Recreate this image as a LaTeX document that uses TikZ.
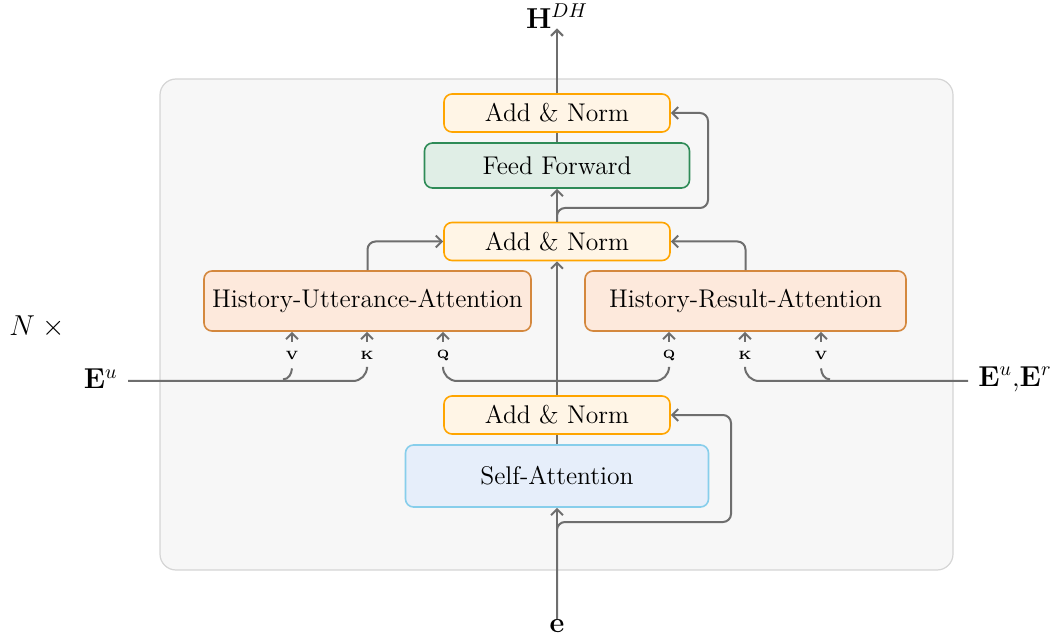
\documentclass[tikz,border=0pt]{standalone}
\usetikzlibrary{arrows.meta,calc}
\definecolor{lineg}{HTML}{6E6E6E}
\definecolor{bgfill}{HTML}{F7F7F7}
\definecolor{bgline}{HTML}{D5D5D5}
\definecolor{anfill}{HTML}{FFF5E6}
\definecolor{anline}{HTML}{FFA500}
\definecolor{fffill}{HTML}{E0EEE6}
\definecolor{ffline}{HTML}{2E8B57}
\definecolor{hafill}{HTML}{FDE9DC}
\definecolor{haline}{HTML}{D4883E}
\definecolor{safill}{HTML}{E6EEFA}
\definecolor{saline}{HTML}{87CEEB}
\begin{document}
\begin{tikzpicture}[x=0.5pt,y=-0.5pt,
  block/.style={draw, rounded corners=4pt, line width=0.8pt, inner sep=0pt,
    align=center, font=\fontsize{12.8}{15}\selectfont},
  addnorm/.style={block, fill=anfill, draw=anline, minimum width=113pt, minimum height=19pt},
  ffbox/.style={block, fill=fffill, draw=ffline, minimum width=132.5pt, minimum height=22.5pt},
  attbox/.style={block, fill=hafill, draw=haline, minimum height=30pt},
  sabox/.style={block, fill=safill, draw=saline, minimum width=151.5pt, minimum height=31pt},
  qkv/.style={inner sep=0pt, minimum height=13pt, font=\fontsize{6}{7}\selectfont\bfseries},
  conn/.style={draw=lineg, line width=1pt, rounded corners=4pt},
  arr/.style={conn, -{Straight Barb[length=3pt,width=6pt]}},
  lbl/.style={inner sep=0pt, font=\fontsize{14}{16}\selectfont},
  side/.style={lbl, inner sep=5pt}]
\useasboundingbox (0,0) rectangle (1050,636);

% layer container
\draw[fill=bgfill, draw=bgline, line width=0.6pt, rounded corners=8pt] (160,79) rectangle (953,570);

% blocks
\node[addnorm] (an3) at (557,113) {Add \& Norm};
\node[ffbox] (ff) at (557,165.5) {Feed Forward};
\node[addnorm] (an2) at (557,241.5) {Add \& Norm};
\node[attbox, minimum width=163.5pt] (hua) at (367.5,301) {History-Utterance-Attention};
\node[attbox, minimum width=160.5pt] (hra) at (745.5,301) {History-Result-Attention};
\node[addnorm] (an1) at (557,415) {Add \& Norm};
\node[sabox] (sa) at (557,476) {Self-Attention};

% outer labels
\node[lbl] (hdh) at (557,16) {$\mathbf{H}^{DH}$};
\node[lbl] (e) at (557,626) {$\mathbf{e}$};
\node[lbl, anchor=west] (nx) at (9,327) {$N\;{\times}$};
\node[side, anchor=east] (eu) at (128,379) {$\mathbf{E}^{u}$};
\node[side, anchor=west] (eur) at (968,379) {$\mathbf{E}^{u}$,$\mathbf{E}^{r}$};

% query / key / value tags
\node[qkv] (vl) at (292,355) {V};
\node[qkv] (kl) at (367,355) {K};
\node[qkv] (ql) at (443,355) {Q};
\node[qkv] (qr) at (669,355) {Q};
\node[qkv] (kr) at (745,355) {K};
\node[qkv] (vr) at (821,355) {V};

\coordinate (hub) at (557,381);
\coordinate (res1) at (731,522);
\coordinate (res2) at (708,208);

% self-attention sub-layer
\draw[arr] (e.north) -- (sa.south);
\draw[arr] (e.north) |- (res1) |- (an1.east);
\draw[conn] (sa.north) -- (an1.south);
\draw[arr] (an1.north) -- (an2.south);

% queries from the decoder stream
\draw[conn, rounded corners=7pt] (ql.south) |- (hub);
\draw[conn, rounded corners=7pt] (qr.south) |- (hub);

% keys and values from the encoders
\draw[conn, rounded corners=7pt] (eu.east |- hub) -| (kl.south);
\draw[conn] (vl.south) to[out=-95,in=0] ++(-9,11);
\draw[conn, rounded corners=7pt] (eur.west |- hub) -| (kr.south);
\draw[conn] (vr.south) to[out=-85,in=180] ++(9,11);

\foreach \t in {vl,kl,ql}
  \draw[arr] (\t.north) -- (\t.north |- hua.south);
\foreach \t in {qr,kr,vr}
  \draw[arr] (\t.north) -- (\t.north |- hra.south);

% attention outputs into the second Add & Norm
\draw[arr] (hua.north) |- (an2.west);
\draw[arr] (hra.north) |- (an2.east);

% feed-forward sub-layer
\draw[arr] (an2.north) -- (ff.south);
\draw[arr] (an2.north) |- (res2) |- (an3.east);
\draw[conn] (ff.north) -- (an3.south);
\draw[arr] (an3.north) -- (hdh.south);
\end{tikzpicture}
\end{document}
